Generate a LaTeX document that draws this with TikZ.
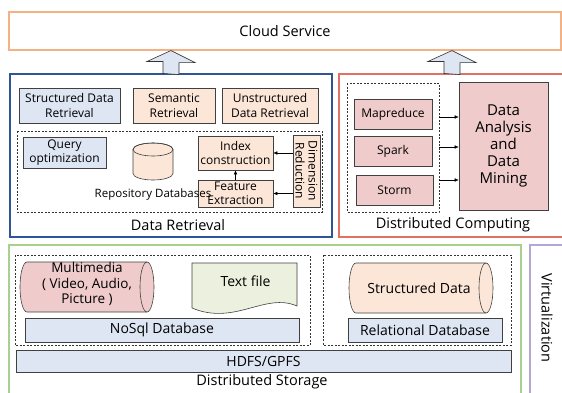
\documentclass[tikz,border=0pt]{standalone}
\usepackage{fontspec}
\setmainfont{Open Sans}
\usetikzlibrary{positioning, calc, arrows.meta}
\definecolor{cloudline}{HTML}{F4B183}
\definecolor{retline}{HTML}{2F5597}
\definecolor{compline}{HTML}{E0705F}
\definecolor{storeline}{HTML}{A9D18E}
\definecolor{virtline}{HTML}{B4A7D6}
\definecolor{lightblue}{HTML}{DEE6F3}
\definecolor{peach}{HTML}{FCE6D8}
\definecolor{rose}{HTML}{EFCBCB}
\definecolor{paleleaf}{HTML}{EBF1DE}

\begin{document}
\begin{tikzpicture}[x=1pt,y=-1pt,align=center,inner sep=0pt,>={Latex[length=4pt,width=3.5pt]}]
\tikzstyle{frame}=[rectangle,line width=1.1pt]
\tikzstyle{box}=[rectangle,draw=black!75,line width=0.6pt,font=\fontsize{12}{14.5}\selectfont]
\tikzstyle{group}=[draw=black!80,dashed,dash pattern=on 2pt off 1.5pt,line width=0.6pt]
\tikzstyle{title}=[font=\fontsize{14.5}{16}\selectfont]
\tikzstyle{uparrow}=[draw=black!80,fill=lightblue,line width=0.6pt]
\tikzstyle{cyl}=[draw=black!75,line width=0.6pt]
\tikzstyle{bigbox}=[box,font=\fontsize{14}{16}\selectfont]

\useasboundingbox (0,0) rectangle (562,392);
\clip (0,0) rectangle (562,392);

% top layer
\node[frame,draw=cloudline,minimum width=552,minimum height=38,font=\fontsize{14.5}{16}\selectfont] (cloud) at (285,31) {Cloud Service};

% retrieval and computing frames
\node[frame,draw=retline,minimum width=322,minimum height=163] (retr) at (171,155.5) {};
\node[frame,draw=compline,minimum width=226,minimum height=163] (comp) at (452,155.5) {};

\draw[uparrow] (retr.north) ++(-8,0) -- ++(0,-12) -- ++(-16,0) -- (retr.north |- cloud.south) -- ++(24,12) -- ++(-16,0) -- ++(0,12) -- cycle;
\draw[uparrow] (comp.north) ++(-8,0) -- ++(0,-12) -- ++(-16,0) -- (comp.north |- cloud.south) -- ++(24,12) -- ++(-16,0) -- ++(0,12) -- cycle;

% data retrieval
\node[box,fill=lightblue,minimum width=101,minimum height=35] (sdr) at (69.5,105.5) {Structured Data\\Retrieval};
\node[box,fill=peach,minimum width=82,minimum height=35] (sem) at (174,105.5) {Semantic\\Retrieval};
\node[box,fill=peach,minimum width=96,minimum height=35] (udr) at (270,105.5) {Unstructured\\Data Retrieval};

\draw[group] (17,131) rectangle (322,212);
\node[box,fill=lightblue,minimum width=83,minimum height=31] (query) at (64.5,152.5) {Query\\optimization};
\draw[cyl,fill=peach] (133,149.5) -- (133,173.5) arc[start angle=180,end angle=0,x radius=20,y radius=6.5]
  -- (173,149.5) arc[start angle=0,end angle=-180,x radius=20,y radius=6.5] -- cycle;
\draw[cyl] (153,149.5) ellipse[x radius=20,y radius=6.5];
\node[box,fill=peach,minimum width=75,minimum height=34] (index) at (235.5,153) {Index\\construction};
\node[box,fill=peach,minimum width=75,minimum height=27] (feat) at (235.5,193.5) {Feature\\Extraction};
\node[box,fill=peach,rotate=-90,minimum width=72,minimum height=27,font=\fontsize{12}{13}\selectfont] (dim) at (306.5,171) {Dimension\\Reduction};
\node[font=\fontsize{11.5}{13}\selectfont] (repo_lbl) at (153,195) {Repository Databases};

\draw[->] (dim.south |- index.east) -- (index.east);
\draw[->] (dim.south |- feat.east) -- (feat.east);
\draw[->] (feat.north) -- (index.south);

\node[title] (retr_lbl) at (178,225) {Data Retrieval};

% distributed computing
\draw[group] (347,83) rectangle (439,212);
\node[box,fill=rose,minimum width=78,minimum height=30] (mapred) at (393,114) {Mapreduce};
\node[box,fill=rose,minimum width=78,minimum height=30] (spark) at (393,151) {Spark};
\node[box,fill=rose,minimum width=77,minimum height=30] (storm) at (394.5,190) {Storm};
\node[box,fill=rose,minimum width=89,minimum height=128,font=\fontsize{15}{17}\selectfont] (mining) at (503.5,146) {Data\\Analysis\\and\\Data\\Mining};

\coordinate (c1) at (439,117);
\coordinate (c2) at (439,147);
\coordinate (c3) at (439,180);
\foreach \c in {c1,c2,c3}
  \draw[->] (\c) -- (\c -| mining.west);

\node[title] (comp_lbl) at (453,225) {Distributed Computing};

% storage layer
\node[frame,draw=storeline,minimum width=512,minimum height=160] (store) at (265,325) {};
\node[frame,draw=virtline,minimum width=40,minimum height=160] (virt) at (550,325) {};
\node[title,rotate=-90] (virt_lbl) at (547,318) {Virtualization};

\draw[group] (15,255) rectangle (310,345);
\draw[group] (323,255) rectangle (511,345);

\draw[cyl,fill=rose] (27,262) -- (147,262) arc[start angle=-90,end angle=90,x radius=7,y radius=25]
  -- (27,312) arc[start angle=90,end angle=270,x radius=7,y radius=25] -- cycle;
\draw[cyl] (147,262) arc[start angle=-90,end angle=-270,x radius=7,y radius=25];
\node[font=\fontsize{13.5}{15.5}\selectfont] (media) at (87,284) {Multimedia\\( Video, Audio,\\Picture )};

\draw[cyl,fill=paleleaf] (192,263) -- (297,263) -- (297,306) .. controls (265,292) and (235,326) .. (192,308) -- cycle;
\node[font=\fontsize{14}{16}\selectfont] (textfile) at (245.5,281) {Text file};
\node[bigbox,fill=lightblue,minimum width=274,minimum height=24] (nosql) at (162,330) {NoSql Database};

\draw[cyl,fill=peach] (356,263) -- (486,263) arc[start angle=-90,end angle=90,x radius=7,y radius=25]
  -- (356,313) arc[start angle=90,end angle=270,x radius=7,y radius=25] -- cycle;
\draw[cyl] (486,263) arc[start angle=-90,end angle=-270,x radius=7,y radius=25];
\node[font=\fontsize{14}{16}\selectfont] (sdata) at (419,288) {Structured Data};
\node[bigbox,fill=lightblue,minimum width=154,minimum height=24] (rel) at (425,330) {Relational Database};

\node[bigbox,fill=lightblue,minimum width=495,minimum height=22] (hdfs) at (263.5,361) {HDFS/GPFS};
\node[title] (store_lbl) at (262,382) {Distributed Storage};
\end{tikzpicture}
\end{document}
